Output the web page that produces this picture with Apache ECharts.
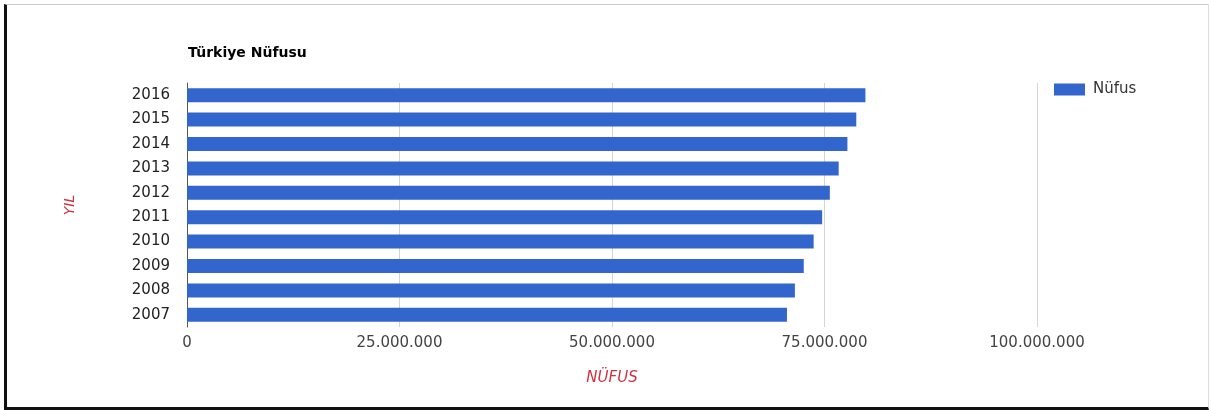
<!DOCTYPE html>
<html>
<head>
<meta charset="utf-8">
<script src="https://cdn.jsdelivr.net/npm/echarts@6/dist/echarts.min.js"></script>
<style>
  html, body { margin: 0; padding: 0; background: #fff; }
  #frame {
    position: absolute; left: 4px; top: 4px; width: 1205px; height: 406px;
    box-sizing: border-box;
    border-left: 3px solid #111; border-bottom: 3px solid #111;
    border-top: 1px solid #ccc; border-right: 1px solid #ddd;
  }
  #chart { position: absolute; left: 0; top: 0; width: 1211px; height: 410px; }
</style>
</head>
<body>
<div id="frame"></div>
<div id="chart"></div>
<script>
const years = ['2007', '2008', '2009', '2010', '2011', '2012', '2013', '2014', '2015', '2016'];
const nufus = [70586256, 71517100, 72561312, 73722988, 74724269, 75627384, 76667864, 77695904, 78741053, 79814871];
const xTicks = [0, 25000000, 50000000, 75000000, 100000000];

function dotted(v) {
  return String(v).replace(/\B(?=(\d{3})+(?!\d))/g, '.');
}

const chart = echarts.init(document.getElementById('chart'), null, { renderer: 'canvas' });
chart.setOption({
  backgroundColor: 'transparent',
  animation: false,
  textStyle: { fontFamily: 'DejaVu Sans, sans-serif' },
  title: {
    text: 'Türkiye Nüfusu',
    left: 188, top: 46, padding: 0,
    textStyle: { fontSize: 14, fontWeight: 'bold', color: '#000' }
  },
  legend: {
    data: ['Nüfus'],
    left: 1054, top: 82, padding: 0,
    icon: 'rect',
    itemWidth: 31, itemHeight: 12, itemGap: 6,
    textStyle: { fontSize: 15, color: '#333', padding: [0, 0, 0, 3] }
  },
  grid: { left: 187, right: 174, top: 83, bottom: 83 },
  xAxis: {
    type: 'value',
    min: xTicks[0], max: xTicks[xTicks.length - 1], interval: 25000000,
    name: 'NÜFUS', nameLocation: 'middle', nameGap: 44,
    nameTextStyle: { color: '#cc3340', fontStyle: 'italic', fontSize: 15 },
    axisLine: { show: false },
    axisTick: { show: false },
    splitLine: { lineStyle: { color: '#d4d4d4' } },
    axisLabel: { formatter: dotted, color: '#444', fontSize: 15, margin: 9 }
  },
  yAxis: {
    type: 'category',
    data: years,
    name: 'YIL', nameLocation: 'middle', nameGap: 110, nameRotate: 90,
    nameTextStyle: { color: '#cc3340', fontStyle: 'italic', fontSize: 14 },
    axisLine: { lineStyle: { color: '#555' } },
    axisTick: { show: false },
    axisLabel: { color: '#222', fontSize: 15, margin: 17 }
  },
  series: [{
    name: 'Nüfus',
    type: 'bar',
    data: nufus,
    barWidth: 14,
    itemStyle: { color: '#3366cc' }
  }]
});
</script>
</body>
</html>
